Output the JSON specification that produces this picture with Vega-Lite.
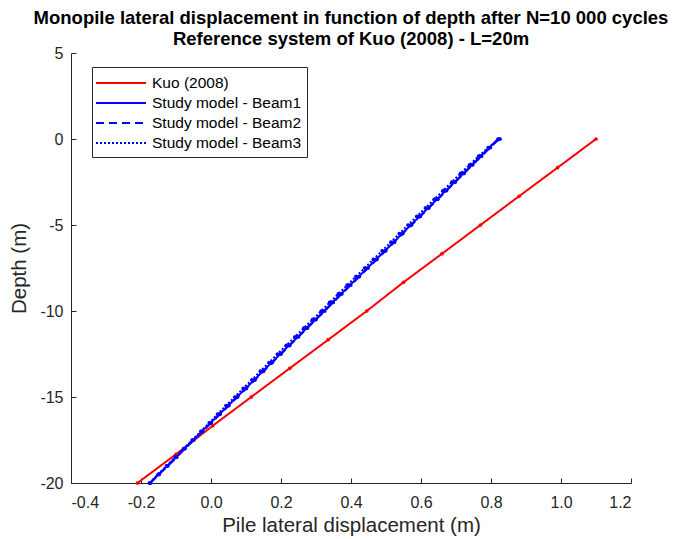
{
  "$schema": "https://vega.github.io/schema/vega-lite/v6.json",
  "width": 560,
  "height": 430,
  "autosize": "none",
  "padding": {"left": 71, "top": 53, "right": 47, "bottom": 56},
  "background": "white",
  "config": {
    "font": "Liberation Sans",
    "view": {"stroke": null},
    "axis": {
      "grid": false,
      "domainColor": "#262626",
      "tickColor": "#262626",
      "labelColor": "#262626",
      "titleColor": "#262626",
      "labelFont": "Liberation Sans",
      "titleFont": "Liberation Sans",
      "labelFontSize": 16,
      "titleFontSize": 20.5,
      "titleFontWeight": "normal",
      "tickSize": -5,
      "labelExpr": "replace(datum.label, '−', '-')"
    }
  },
  "title": {
    "text": ["Monopile lateral displacement in function of depth after N=10 000 cycles", "Reference system of Kuo (2008) - L=20m"],
    "fontSize": 18.5,
    "fontWeight": "bold",
    "color": "#000000",
    "anchor": "middle",
    "lineHeight": 21,
    "offset": -3,
    "font": "Liberation Sans"
  },
  "data": {
    "values": [
      {"s": "Kuo (2008)", "x": 1.10, "d": 0},
      {"s": "Kuo (2008)", "x": 0.99, "d": -1.67},
      {"s": "Kuo (2008)", "x": 0.88, "d": -3.33},
      {"s": "Kuo (2008)", "x": 0.77, "d": -5},
      {"s": "Kuo (2008)", "x": 0.66, "d": -6.67},
      {"s": "Kuo (2008)", "x": 0.55, "d": -8.33},
      {"s": "Kuo (2008)", "x": 0.445, "d": -10},
      {"s": "Kuo (2008)", "x": 0.335, "d": -11.67},
      {"s": "Kuo (2008)", "x": 0.225, "d": -13.33},
      {"s": "Kuo (2008)", "x": 0.115, "d": -15},
      {"s": "Kuo (2008)", "x": 0.005, "d": -16.67},
      {"s": "Kuo (2008)", "x": -0.10, "d": -18.33},
      {"s": "Kuo (2008)", "x": -0.21, "d": -20},

      {"s": "Study model - Beam1", "x": 0.820, "d": 0},
      {"s": "Study model - Beam1", "x": 0.795, "d": -0.5},
      {"s": "Study model - Beam1", "x": 0.770, "d": -1},
      {"s": "Study model - Beam1", "x": 0.745, "d": -1.5},
      {"s": "Study model - Beam1", "x": 0.721, "d": -2},
      {"s": "Study model - Beam1", "x": 0.696, "d": -2.5},
      {"s": "Study model - Beam1", "x": 0.671, "d": -3},
      {"s": "Study model - Beam1", "x": 0.646, "d": -3.5},
      {"s": "Study model - Beam1", "x": 0.621, "d": -4},
      {"s": "Study model - Beam1", "x": 0.596, "d": -4.5},
      {"s": "Study model - Beam1", "x": 0.571, "d": -5},
      {"s": "Study model - Beam1", "x": 0.546, "d": -5.5},
      {"s": "Study model - Beam1", "x": 0.522, "d": -6},
      {"s": "Study model - Beam1", "x": 0.497, "d": -6.5},
      {"s": "Study model - Beam1", "x": 0.472, "d": -7},
      {"s": "Study model - Beam1", "x": 0.447, "d": -7.5},
      {"s": "Study model - Beam1", "x": 0.422, "d": -8},
      {"s": "Study model - Beam1", "x": 0.397, "d": -8.5},
      {"s": "Study model - Beam1", "x": 0.372, "d": -9},
      {"s": "Study model - Beam1", "x": 0.347, "d": -9.5},
      {"s": "Study model - Beam1", "x": 0.323, "d": -10},
      {"s": "Study model - Beam1", "x": 0.298, "d": -10.5},
      {"s": "Study model - Beam1", "x": 0.273, "d": -11},
      {"s": "Study model - Beam1", "x": 0.248, "d": -11.5},
      {"s": "Study model - Beam1", "x": 0.223, "d": -12},
      {"s": "Study model - Beam1", "x": 0.198, "d": -12.5},
      {"s": "Study model - Beam1", "x": 0.173, "d": -13},
      {"s": "Study model - Beam1", "x": 0.148, "d": -13.5},
      {"s": "Study model - Beam1", "x": 0.124, "d": -14},
      {"s": "Study model - Beam1", "x": 0.099, "d": -14.5},
      {"s": "Study model - Beam1", "x": 0.074, "d": -15},
      {"s": "Study model - Beam1", "x": 0.049, "d": -15.5},
      {"s": "Study model - Beam1", "x": 0.024, "d": -16},
      {"s": "Study model - Beam1", "x": -0.001, "d": -16.5},
      {"s": "Study model - Beam1", "x": -0.026, "d": -17},
      {"s": "Study model - Beam1", "x": -0.051, "d": -17.5},
      {"s": "Study model - Beam1", "x": -0.076, "d": -18},
      {"s": "Study model - Beam1", "x": -0.100, "d": -18.5},
      {"s": "Study model - Beam1", "x": -0.125, "d": -19},
      {"s": "Study model - Beam1", "x": -0.150, "d": -19.5},
      {"s": "Study model - Beam1", "x": -0.175, "d": -20},

      {"s": "Study model - Beam2", "x": 0.823, "d": 0},
      {"s": "Study model - Beam2", "x": 0.798, "d": -0.5},
      {"s": "Study model - Beam2", "x": 0.773, "d": -1},
      {"s": "Study model - Beam2", "x": 0.748, "d": -1.5},
      {"s": "Study model - Beam2", "x": 0.723, "d": -2},
      {"s": "Study model - Beam2", "x": 0.698, "d": -2.5},
      {"s": "Study model - Beam2", "x": 0.673, "d": -3},
      {"s": "Study model - Beam2", "x": 0.648, "d": -3.5},
      {"s": "Study model - Beam2", "x": 0.623, "d": -4},
      {"s": "Study model - Beam2", "x": 0.598, "d": -4.5},
      {"s": "Study model - Beam2", "x": 0.573, "d": -5},
      {"s": "Study model - Beam2", "x": 0.548, "d": -5.5},
      {"s": "Study model - Beam2", "x": 0.524, "d": -6},
      {"s": "Study model - Beam2", "x": 0.499, "d": -6.5},
      {"s": "Study model - Beam2", "x": 0.474, "d": -7},
      {"s": "Study model - Beam2", "x": 0.449, "d": -7.5},
      {"s": "Study model - Beam2", "x": 0.424, "d": -8},
      {"s": "Study model - Beam2", "x": 0.399, "d": -8.5},
      {"s": "Study model - Beam2", "x": 0.374, "d": -9},
      {"s": "Study model - Beam2", "x": 0.349, "d": -9.5},
      {"s": "Study model - Beam2", "x": 0.325, "d": -10},
      {"s": "Study model - Beam2", "x": 0.300, "d": -10.5},
      {"s": "Study model - Beam2", "x": 0.275, "d": -11},
      {"s": "Study model - Beam2", "x": 0.250, "d": -11.5},
      {"s": "Study model - Beam2", "x": 0.225, "d": -12},
      {"s": "Study model - Beam2", "x": 0.200, "d": -12.5},
      {"s": "Study model - Beam2", "x": 0.175, "d": -13},
      {"s": "Study model - Beam2", "x": 0.150, "d": -13.5},
      {"s": "Study model - Beam2", "x": 0.126, "d": -14},
      {"s": "Study model - Beam2", "x": 0.101, "d": -14.5},
      {"s": "Study model - Beam2", "x": 0.076, "d": -15},
      {"s": "Study model - Beam2", "x": 0.051, "d": -15.5},
      {"s": "Study model - Beam2", "x": 0.026, "d": -16},
      {"s": "Study model - Beam2", "x": 0.001, "d": -16.5},
      {"s": "Study model - Beam2", "x": -0.024, "d": -17},
      {"s": "Study model - Beam2", "x": -0.049, "d": -17.5},
      {"s": "Study model - Beam2", "x": -0.074, "d": -18},
      {"s": "Study model - Beam2", "x": -0.098, "d": -18.5},
      {"s": "Study model - Beam2", "x": -0.123, "d": -19},
      {"s": "Study model - Beam2", "x": -0.148, "d": -19.5},
      {"s": "Study model - Beam2", "x": -0.173, "d": -20},

      {"s": "Study model - Beam3", "x": 0.826, "d": 0},
      {"s": "Study model - Beam3", "x": 0.792, "d": -0.5},
      {"s": "Study model - Beam3", "x": 0.765, "d": -1},
      {"s": "Study model - Beam3", "x": 0.739, "d": -1.5},
      {"s": "Study model - Beam3", "x": 0.713, "d": -2},
      {"s": "Study model - Beam3", "x": 0.688, "d": -2.5},
      {"s": "Study model - Beam3", "x": 0.663, "d": -3},
      {"s": "Study model - Beam3", "x": 0.638, "d": -3.5},
      {"s": "Study model - Beam3", "x": 0.613, "d": -4},
      {"s": "Study model - Beam3", "x": 0.588, "d": -4.5},
      {"s": "Study model - Beam3", "x": 0.563, "d": -5},
      {"s": "Study model - Beam3", "x": 0.538, "d": -5.5},
      {"s": "Study model - Beam3", "x": 0.514, "d": -6},
      {"s": "Study model - Beam3", "x": 0.489, "d": -6.5},
      {"s": "Study model - Beam3", "x": 0.464, "d": -7},
      {"s": "Study model - Beam3", "x": 0.439, "d": -7.5},
      {"s": "Study model - Beam3", "x": 0.414, "d": -8},
      {"s": "Study model - Beam3", "x": 0.389, "d": -8.5},
      {"s": "Study model - Beam3", "x": 0.364, "d": -9},
      {"s": "Study model - Beam3", "x": 0.339, "d": -9.5},
      {"s": "Study model - Beam3", "x": 0.315, "d": -10},
      {"s": "Study model - Beam3", "x": 0.290, "d": -10.5},
      {"s": "Study model - Beam3", "x": 0.265, "d": -11},
      {"s": "Study model - Beam3", "x": 0.240, "d": -11.5},
      {"s": "Study model - Beam3", "x": 0.215, "d": -12},
      {"s": "Study model - Beam3", "x": 0.190, "d": -12.5},
      {"s": "Study model - Beam3", "x": 0.166, "d": -13},
      {"s": "Study model - Beam3", "x": 0.141, "d": -13.5},
      {"s": "Study model - Beam3", "x": 0.117, "d": -14},
      {"s": "Study model - Beam3", "x": 0.092, "d": -14.5},
      {"s": "Study model - Beam3", "x": 0.068, "d": -15},
      {"s": "Study model - Beam3", "x": 0.043, "d": -15.5},
      {"s": "Study model - Beam3", "x": 0.019, "d": -16},
      {"s": "Study model - Beam3", "x": -0.005, "d": -16.5},
      {"s": "Study model - Beam3", "x": -0.029, "d": -17},
      {"s": "Study model - Beam3", "x": -0.054, "d": -17.5},
      {"s": "Study model - Beam3", "x": -0.078, "d": -18},
      {"s": "Study model - Beam3", "x": -0.102, "d": -18.5},
      {"s": "Study model - Beam3", "x": -0.127, "d": -19},
      {"s": "Study model - Beam3", "x": -0.151, "d": -19.5},
      {"s": "Study model - Beam3", "x": -0.176, "d": -20}
    ]
  },
  "encoding": {
    "x": {
      "field": "x", "type": "quantitative",
      "scale": {"domain": [-0.4, 1.2], "nice": false, "zero": false},
      "axis": {"title": "Pile lateral displacement (m)", "values": [-0.4, -0.2, 0, 0.2, 0.4, 0.6, 0.8, 1, 1.2], "labelPadding": 16, "titlePadding": 5}
    },
    "y": {
      "field": "d", "type": "quantitative",
      "scale": {"domain": [-20, 5], "nice": false, "zero": false},
      "axis": {"title": "Depth (m)", "values": [-20, -15, -10, -5, 0, 5], "labelPadding": 13, "titlePadding": 10}
    },
    "color": {
      "field": "s", "type": "nominal",
      "scale": {"domain": ["Kuo (2008)", "Study model - Beam1", "Study model - Beam2", "Study model - Beam3"], "range": ["#FF0000", "#0000FF", "#0000FF", "#0000FF"]},
      "legend": {
        "title": null,
        "orient": "none",
        "legendX": 21,
        "legendY": 14,
        "strokeColor": "#262626",
        "fillColor": "white",
        "padding": 5,
        "symbolType": "M-2.5,0L2.5,0",
        "symbolSize": 400,
        "symbolOffset": 13,
        "symbolStrokeWidth": 2,
        "labelFontSize": 15.5,
        "labelColor": "#000000",
        "labelLimit": 300,
        "rowPadding": 0,
        "labelOffset": 20
      }
    },
    "strokeDash": {
      "field": "s", "type": "nominal",
      "scale": {"domain": ["Kuo (2008)", "Study model - Beam1", "Study model - Beam2", "Study model - Beam3"], "range": [[1, 0], [1, 0], [8, 5], [2, 2]]},
      "legend": null
    }
  },
  "layer": [
    {
      "mark": {"type": "line", "strokeWidth": 2}
    },
    {
      "mark": {"type": "point", "filled": true, "size": 14, "opacity": 1},
      "encoding": {"strokeDash": {"value": [1, 0]}}
    }
  ]
}
